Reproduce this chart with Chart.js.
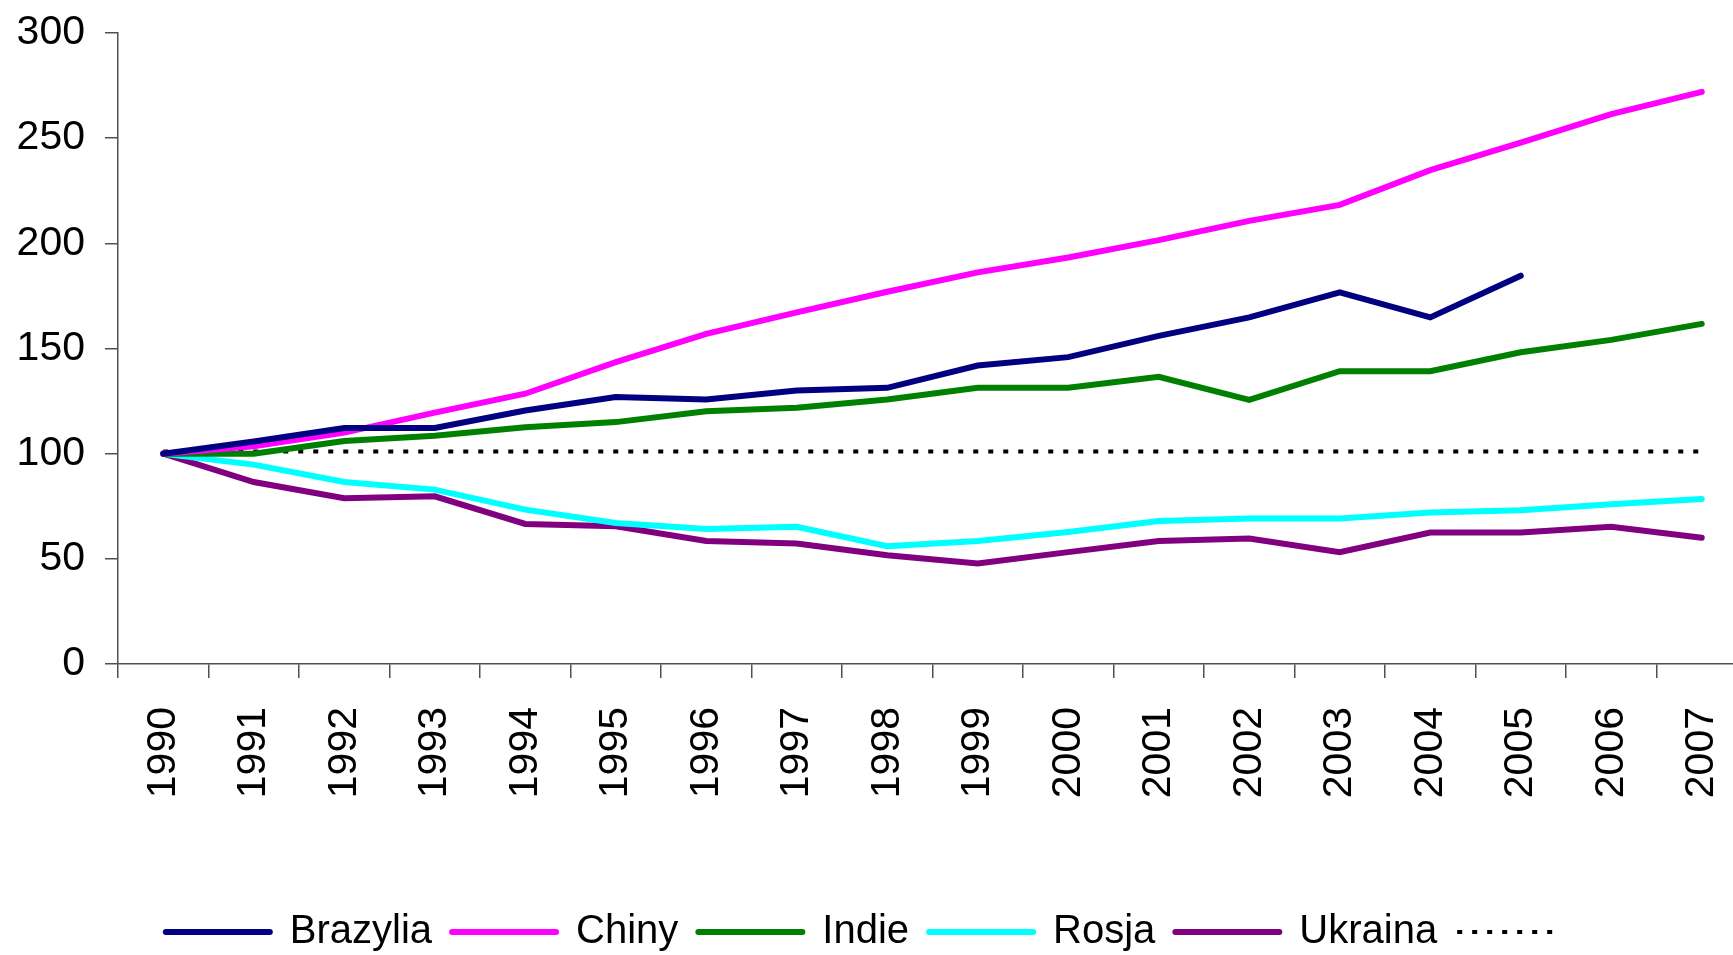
<!DOCTYPE html>
<html>
<head>
<meta charset="utf-8">
<script src="https://cdn.jsdelivr.net/npm/chart.js@4"></script>
<style>
  html, body { margin: 0; padding: 0; overflow: hidden; background: #fff; }
  canvas { display: block; }
</style>
</head>
<body>
<canvas id="wykres" width="1750" height="962"></canvas>
<script>
const lata = ['1990', '1991', '1992', '1993', '1994', '1995', '1996', '1997', '1998',
  '1999', '2000', '2001', '2002', '2003', '2004', '2005', '2006', '2007'];

const brazylia = [100, 105.8, 112.2, 112.2, 120.5, 126.9, 125.8, 130, 131.3, 141.9, 145.9, 156, 164.8, 176.7, 164.8, 184.6, null, null];
const chiny = [100, 103.5, 110, 119.5, 128.5, 143.5, 157, 167.2, 177, 186.2, 193.3, 201.5, 210.7, 218.3, 234.8, 247.9, 261.4, 272];
const indie = [100, 100, 106, 108.5, 112.6, 115, 120.2, 121.8, 125.8, 131.3, 131.3, 136.5, 125.6, 139.2, 139.2, 148.2, 154.1, 161.7];
const rosja = [100, 94.8, 86.5, 82.9, 73.4, 67, 64.2, 65.2, 56, 58.5, 62.8, 68, 69.2, 69.2, 72, 73.1, 75.9, 78.5];
const ukraina = [100, 86.5, 78.8, 79.7, 66.6, 65.5, 58.5, 57.3, 51.7, 47.8, 53.2, 58.5, 59.7, 53.2, 62.5, 62.5, 65.2, 60];
const poziom = [101, 101, 101, 101, 101, 101, 101, 101, 101, 101, 101, 101, 101, 101, 101, 101, 101, 101];

const osY = [0, 50, 100, 150, 200, 250, 300];

const czcionka = "'Liberation Sans', Arial, sans-serif";

function seria(nazwa, dane, kolor) {
  return {
    label: nazwa,
    data: dane,
    borderColor: kolor,
    backgroundColor: kolor,
    borderWidth: 6,
    borderCapStyle: 'round',
    pointRadius: 0,
    tension: 0
  };
}

const ctx = document.getElementById('wykres');
let wykres = new Chart(ctx, {
  type: 'line',
  data: {
    labels: lata,
    datasets: [
      seria('Brazylia', brazylia, '#000080'),
      seria('Chiny', chiny, '#FF00FF'),
      seria('Indie', indie, '#008000'),
      seria('Rosja', rosja, '#00FFFF'),
      seria('Ukraina', ukraina, '#800080'),
      {
        label: '',
        data: poziom,
        borderColor: '#000000',
        backgroundColor: '#000000',
        borderWidth: 4,
        borderDash: [5, 10],
        borderCapStyle: 'butt',
        pointRadius: 0
      }
    ]
  },
  options: {
    responsive: false,
    animation: false,
    layout: {
      padding: { top: 33, right: 3, left: 0, bottom: 0 }
    },
    plugins: {
      tooltip: { enabled: false },
      legend: {
        position: 'bottom',
        labels: {
          usePointStyle: true,
          pointStyle: 'line',
          pointStyleWidth: 104,
          padding: 20,
          color: '#000',
          font: { family: czcionka, size: 40 },
          // kreskowanie linii w legendzie bierzemy z serii
          generateLabels: (chart) => Chart.defaults.plugins.legend.labels.generateLabels(chart).map(l => {
            const ds = chart.data.datasets[l.datasetIndex];
            l.lineDash = ds.borderDash || [];
            l.lineCap = ds.borderCapStyle || 'butt';
            l.lineWidth = ds.borderWidth;
            return l;
          })
        }
      }
    },
    scales: {
      x: {
        offset: true,
        grid: {
          offset: true,
          drawOnChartArea: false,
          tickLength: 14,
          color: '#505050',
          lineWidth: 1.5
        },
        border: { color: '#505050', width: 1.5 },
        ticks: {
          autoSkip: false,
          minRotation: 90,
          maxRotation: 90,
          padding: 29,
          color: '#000',
          font: { family: czcionka, size: 41 }
        },
        afterFit: (skala) => {
          // wysokosc osi tak, by legenda byla na samym dole
          skala.height = 228;
          skala.paddingLeft = 0;
          skala.paddingRight = 0;
        }
      },
      y: {
        min: 0,
        max: 300,
        afterBuildTicks: (skala) => { skala.ticks = osY.map(v => ({ value: v })); },
        grid: {
          drawOnChartArea: false,
          tickLength: 13,
          color: '#505050',
          lineWidth: 1.5
        },
        border: { color: '#505050', width: 1.5 },
        ticks: {
          padding: 20,
          color: '#000',
          font: { family: czcionka, size: 41 }
        },
        afterFit: (skala) => {
          skala.width = 118;
          skala.paddingTop = 0;
          skala.paddingBottom = 0;
        }
      }
    }
  }
});
</script>
</body>
</html>
